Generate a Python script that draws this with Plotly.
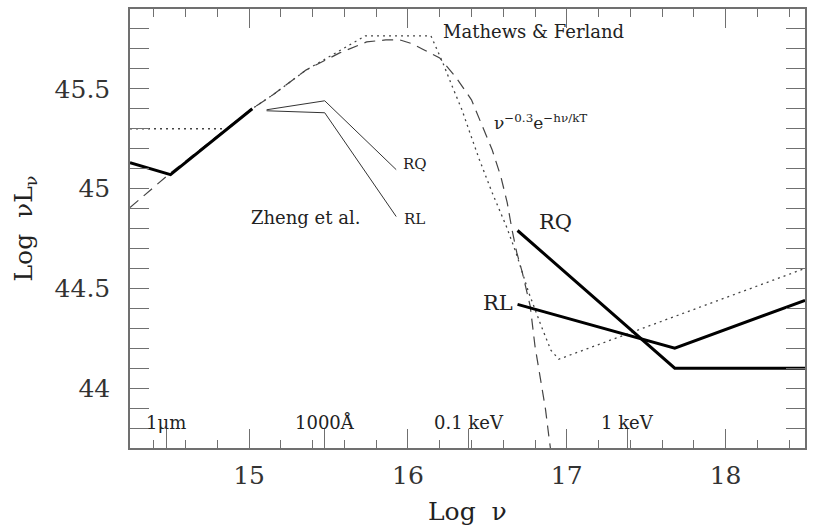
import plotly.graph_objects as go

# ---- data ----
# thick optical/IR SED segment
sed_x = [14.25, 14.505, 15.02]
sed_y = [45.13, 45.07, 45.40]

# Mathews & Ferland (dotted)
mf_x = [14.25, 14.87, 15.0, 15.15, 15.36, 15.57, 15.73, 16.145, 16.22, 16.28,
        16.34, 16.39, 16.45, 16.53, 16.62, 16.68, 16.76, 16.84, 16.9, 16.95, 18.5]
mf_y = [45.30, 45.30, 45.39, 45.47, 45.595, 45.69, 45.765, 45.765, 45.63, 45.51,
        45.395, 45.28, 45.145, 44.98, 44.81, 44.68, 44.48, 44.31, 44.19, 44.145, 44.6]

# nu^-0.3 exp(-h nu/kT) (dashed)
bb_x = [14.25, 14.5, 15.0, 15.15, 15.36, 15.57, 15.74, 15.86, 15.95, 16.03, 16.09,
        16.20, 16.30, 16.40, 16.47, 16.53, 16.585, 16.625, 16.655, 16.685, 16.72,
        16.77, 16.80, 16.835, 16.866, 16.887, 16.897]
bb_y = [44.905, 45.075, 45.39, 45.47, 45.595, 45.68, 45.735, 45.745, 45.745, 45.725, 45.70,
        45.655, 45.56, 45.445, 45.31, 45.195, 45.06, 44.93, 44.795, 44.68, 44.58,
        44.41, 44.21, 44.045, 43.895, 43.76, 43.7]

# Zheng et al. thin lines
zq_x = [15.11, 15.476, 15.926]
zq_y = [45.395, 45.44, 45.095]
zl_x = [15.11, 15.476, 15.926]
zl_y = [45.39, 45.38, 44.86]

# X-ray segments (thick)
xq_x = [16.69, 17.68, 18.5]
xq_y = [44.79, 44.10, 44.10]
xl_x = [16.69, 17.68, 18.5]
xl_y = [44.42, 44.20, 44.44]

# axis ticks
y_tickvals = [44, 44.5, 45, 45.5]
y_ticktext = ["44", "44.5", "45", "45.5"]
x_tickvals = [15, 16, 17, 18]
x_ticktext = ["15", "16", "17", "18"]
# special wavelength/energy markers on the bottom axis
mark_vals = [14.477, 15.477, 16.383, 17.383]
mark_text = ["1\u03bcm", "1000\u00c5", "0.1 keV", "1 keV"]

XR = [14.25, 18.5]
YR = [43.7, 45.9]

FONT = "DejaVu Serif"
AX = "#707070"

fig = go.Figure()

thin = dict(color="#333333", width=1)
fig.add_trace(go.Scatter(x=mf_x, y=mf_y, mode="lines",
                         line=dict(color="#444444", width=1.3, dash="2px,4px")))
fig.add_trace(go.Scatter(x=bb_x, y=bb_y, mode="lines",
                         line=dict(color="#444444", width=1.2, dash="11px,7px")))
fig.add_trace(go.Scatter(x=zq_x, y=zq_y, mode="lines", line=thin))
fig.add_trace(go.Scatter(x=zl_x, y=zl_y, mode="lines", line=thin))
thick = dict(color="black", width=3)
fig.add_trace(go.Scatter(x=sed_x, y=sed_y, mode="lines", line=thick))
fig.add_trace(go.Scatter(x=xq_x, y=xq_y, mode="lines", line=thick))
fig.add_trace(go.Scatter(x=xl_x, y=xl_y, mode="lines", line=thick))

# extra bottom-axis markers via overlaid axis
fig.add_trace(go.Scatter(x=[XR[0]], y=[YR[0]], xaxis="x2", mode="lines",
                         line=dict(width=0), hoverinfo="skip"))

def ann(x, y, text, size, xanchor="left"):
    fig.add_annotation(x=x, y=y, text=text, showarrow=False, xanchor=xanchor,
                       yanchor="middle", font=dict(family=FONT, size=size, color="#222"))

ann(16.205, 45.785, "Mathews &amp; Ferland", 18)
ann(16.53, 45.335, "\u03bd<sup>\u22120.3</sup>e<sup>\u2212h\u03bd/kT</sup>", 17)
ann(15.0, 44.855, "Zheng et al.", 18)
ann(15.955, 45.125, "RQ", 15)
ann(15.965, 44.85, "RL", 15)
ann(16.81, 44.835, "RQ", 21)
ann(16.46, 44.425, "RL", 21)
for v, t in zip(mark_vals, mark_text):
    ann(v, 43.83, t, 18, xanchor="center")

# axis titles
fig.add_annotation(x=0.5, y=-0.108, xref="paper", yref="paper", text="Log  \u03bd",
                   showarrow=False, xanchor="center", yanchor="top",
                   font=dict(family=FONT, size=25, color="#222"))
fig.add_annotation(x=-0.157, y=0.5, xref="paper", yref="paper",
                   text="Log  \u03bdL<sub>\u03bd</sub>", textangle=-90,
                   showarrow=False, xanchor="center", yanchor="middle",
                   font=dict(family=FONT, size=25, color="#222"))

fig.update_layout(
    width=813, height=532,
    margin=dict(l=130, r=6, t=9, b=84),
    paper_bgcolor="white", plot_bgcolor="white",
    showlegend=False,
    xaxis=dict(range=XR, tickvals=x_tickvals, ticktext=x_ticktext,
               ticks="inside", ticklen=19, tickwidth=1.3, tickcolor=AX,
               showline=True, linecolor=AX, linewidth=1.5, mirror="allticks",
               showgrid=False, zeroline=False,
               minor=dict(dtick=0.2, tick0=0, ticks="inside", ticklen=8,
                          tickwidth=1.2, tickcolor=AX, showgrid=False),
               tickfont=dict(family=FONT, size=25, color="#333"),
               ticklabelstandoff=4),
    xaxis2=dict(range=XR, overlaying="x", side="bottom", tickvals=mark_vals,
                ticks="inside", ticklen=19, tickwidth=1.3, tickcolor=AX,
                showticklabels=False, showline=False, showgrid=False,
                zeroline=False),
    yaxis=dict(range=YR, tickvals=y_tickvals, ticktext=y_ticktext,
               ticks="inside", ticklen=19, tickwidth=1.3, tickcolor=AX,
               showline=True, linecolor=AX, linewidth=1.5, mirror="allticks",
               showgrid=False, zeroline=False,
               minor=dict(dtick=0.1, tick0=0, ticks="inside", ticklen=8,
                          tickwidth=1.2, tickcolor=AX, showgrid=False),
               tickfont=dict(family=FONT, size=25, color="#333"),
               ticklabelstandoff=13),
)

fig.write_html("out.html", config={"displayModeBar": False},
               post_script="document.body.style.margin='0';document.body.style.overflow='hidden';")
